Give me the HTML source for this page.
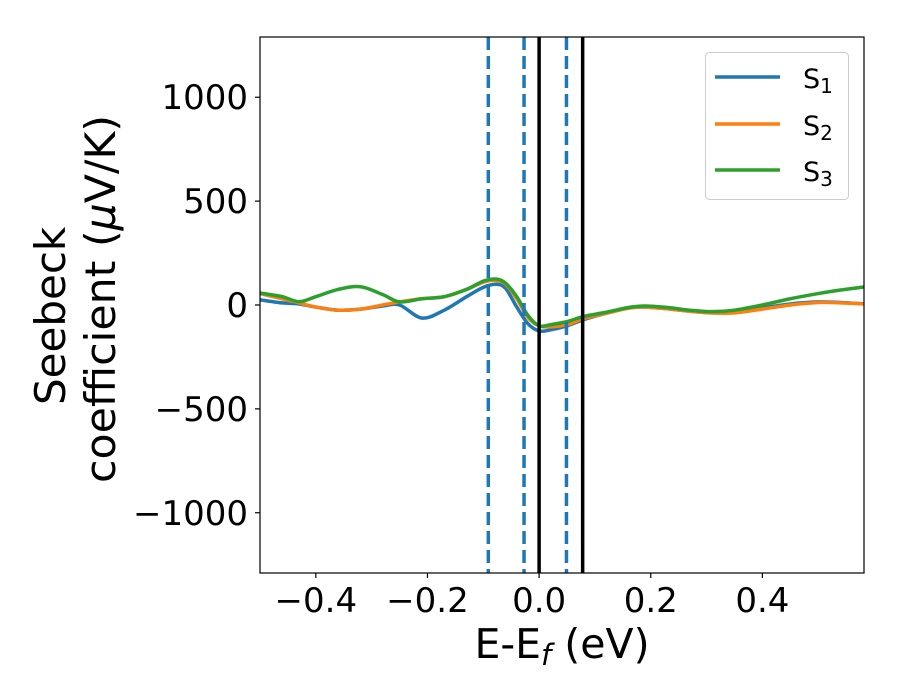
<!DOCTYPE html>
<html><head><meta charset="utf-8"><style>
body{margin:0;background:#fff;}
svg{display:block;font-family:"DejaVu Sans","Liberation Sans",sans-serif;}
</style></head><body>
<svg id="chart" width="900" height="700">
<rect width="900" height="700" fill="#fff"/>
<g id="marks"></g>
<g id="axes"></g>
</svg>
<script>
const xs = [-0.5,-0.46,-0.43,-0.4,-0.36,-0.32,-0.28,-0.25,-0.21,-0.17,-0.13,-0.1,-0.077,-0.06,-0.04,-0.02,0.0,0.02,0.05,0.08,0.12,0.16,0.19,0.23,0.27,0.31,0.35,0.4,0.45,0.5,0.54,0.585];
const s1 = [25,10,5,-10,-25,-20,-5,0,-63,-25,40,85,100,80,-10,-90,-125,-120,-100,-70,-40,-15,-10,-18,-30,-38,-35,-15,5,15,12,5];
const s2 = [55,30,10,-10,-25,-20,0,15,30,40,75,110,118,100,30,-60,-100,-105,-95,-65,-40,-15,-10,-18,-30,-38,-38,-20,0,12,10,5];
const s3 = [58,40,16,40,75,88,50,15,30,40,75,115,125,105,40,-50,-100,-95,-80,-55,-35,-12,-5,-12,-25,-32,-25,0,30,55,72,88];
const dashedLines = [-0.091,-0.027,0.049];
const solidLines = [0.0,0.078];
const xTicks = [-0.4,-0.2,0.0,0.2,0.4];
const xTickLabels = ["\u22120.4","\u22120.2","0.0","0.2","0.4"];
const yTicks = [-1000,-500,0,500,1000];
const yTickLabels = ["\u22121000","\u2212500","0","500","1000"];
const names = ["S1","S2","S3"];

const L=260,R=864,T=37,B=573, X0=-0.5,X1=0.582, Y0=-1290,Y1=1290;
const sx=v=>L+(v-X0)/(X1-X0)*(R-L);
const sy=v=>B-(v-Y0)/(Y1-Y0)*(B-T);
const NS="http://www.w3.org/2000/svg";
const marks=document.getElementById('marks'), axes=document.getElementById('axes');
function mk(tag,attrs,parent){const e=document.createElementNS(NS,tag);for(const k in attrs)e.setAttribute(k,attrs[k]);parent.appendChild(e);return e;}

const defs=mk('defs',{},marks);
const cp=mk('clipPath',{id:'clip'},defs);
mk('rect',{x:L,y:T,width:R-L,height:B-T},cp);
const g=mk('g',{'clip-path':'url(#clip)'},marks);

function pathFor(ys){
  const p=xs.map((x,i)=>[sx(x),sy(ys[i])]);
  let d=`M${p[0][0]},${p[0][1]}`;
  for(let i=0;i<p.length-1;i++){
    const p0=p[Math.max(0,i-1)],p1=p[i],p2=p[i+1],p3=p[Math.min(p.length-1,i+2)];
    const c1=[p1[0]+(p2[0]-p0[0])/6,p1[1]+(p2[1]-p0[1])/6];
    const c2=[p2[0]-(p3[0]-p1[0])/6,p2[1]-(p3[1]-p1[1])/6];
    d+=` C${c1[0]},${c1[1]} ${c2[0]},${c2[1]} ${p2[0]},${p2[1]}`;
  }
  return d;
}
const colors=['#1f77b4','#ff7f0e','#2ca02c'];
[s1,s2,s3].forEach((s,i)=>{
  const e=mk('path',{d:pathFor(s),fill:'none',stroke:colors[i],'stroke-width':3.5,'stroke-linejoin':'round'},g);
  
  
});
dashedLines.forEach(v=>{
  const e=mk('line',{x1:sx(v),x2:sx(v),y1:T,y2:B,stroke:'#1f77b4','stroke-width':3.5,'stroke-dasharray':'13,6'},g);
  
  
});
solidLines.forEach(v=>{
  const e=mk('line',{x1:sx(v),x2:sx(v),y1:T,y2:B,stroke:'#000','stroke-width':3.5},g);
  
  
});

const frame=mk('rect',{x:L,y:T,width:R-L,height:B-T,fill:'none',stroke:'#000','stroke-width':1.2},axes);


xTicks.forEach((v,i)=>{
  mk('line',{x1:sx(v),x2:sx(v),y1:B,y2:B+5,stroke:'#000','stroke-width':1.2},axes);
  const t=mk('text',{x:sx(v),y:B+39,'text-anchor':'middle','font-size':34,fill:'#000'},axes);
  t.textContent=xTickLabels[i];
  
  
});
yTicks.forEach((v,i)=>{
  mk('line',{x1:L-5,x2:L,y1:sy(v),y2:sy(v),stroke:'#000','stroke-width':1.2},axes);
  const t=mk('text',{x:L-12,y:sy(v)+12,'text-anchor':'end','font-size':34,fill:'#000'},axes);
  t.textContent=yTickLabels[i];
  
  
});
</script>
<svg style="position:absolute;left:0;top:0" width="900" height="700">
<text x="562" y="658" text-anchor="middle" font-size="41" font-family="DejaVu Sans,sans-serif">E-E<tspan font-style="italic" font-size="29" dy="7">f</tspan><tspan dy="-7"> (eV)</tspan></text>
<g font-size="42" font-family="DejaVu Sans,sans-serif">
<text transform="translate(65,405) rotate(-90)" x="0" y="0">Seebeck</text>
<text transform="translate(115,483) rotate(-90)" x="0" y="0" textLength="368" lengthAdjust="spacingAndGlyphs">coefficient  (<tspan font-style="italic">μ</tspan>V/K)</text>
</g>
<g>
<rect x="705.5" y="52.5" width="143" height="147" rx="4" fill="#fff" fill-opacity="0.8" stroke="#ccc"/>
<line x1="715" x2="780" y1="77" y2="77" stroke="#1f77b4" stroke-width="3.5"/>
<line x1="715" x2="780" y1="124" y2="124" stroke="#ff7f0e" stroke-width="3.5"/>
<line x1="715" x2="780" y1="170" y2="170" stroke="#2ca02c" stroke-width="3.5"/>
<g font-size="27" font-family="DejaVu Sans,sans-serif">
<text x="803" y="88">S<tspan font-size="20" dy="5">1</tspan></text>
<text x="803" y="135">S<tspan font-size="20" dy="5">2</tspan></text>
<text x="803" y="181">S<tspan font-size="20" dy="5">3</tspan></text>
</g>
</g>
</svg>
</body></html>
